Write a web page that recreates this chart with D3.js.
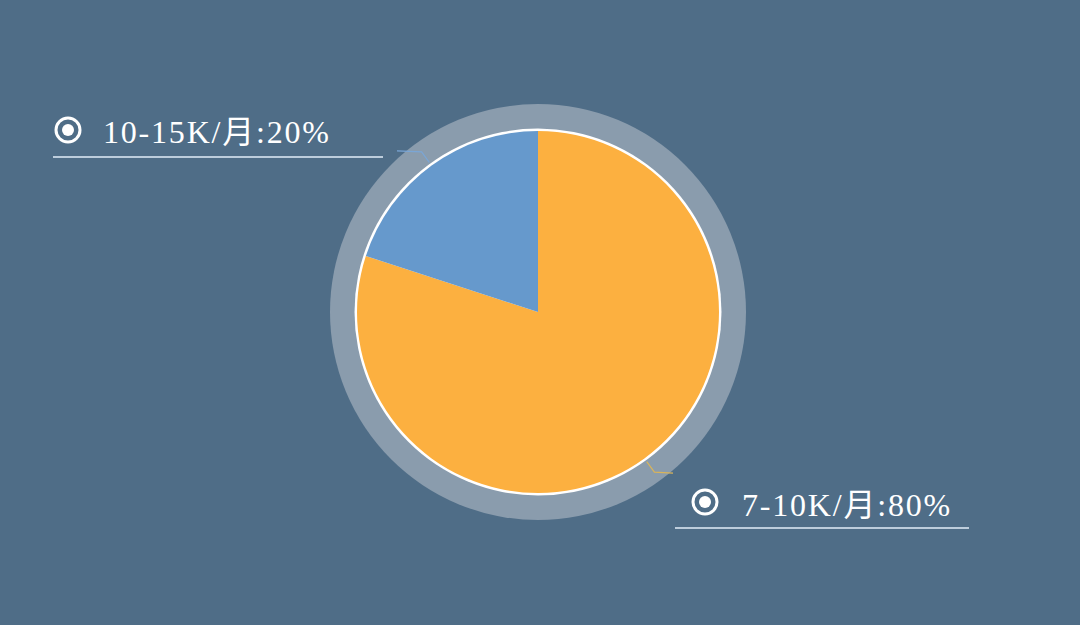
<!DOCTYPE html>
<html><head><meta charset="utf-8">
<script src="https://cdn.jsdelivr.net/npm/d3@7/dist/d3.min.js"></script>
<style>html,body{margin:0;padding:0;background:#4f6d87;}svg{display:block;}</style>
</head><body><svg id="c" width="1080" height="625"></svg>
<script>
const categories = ["7-10K/月", "10-15K/月"];
const values = [80, 20];
const colors = ["#fcb040", "#6699cc"];

const W = 1080, H = 625, cx = 538, cy = 312;
const svg = d3.select("#c");
svg.append("rect").attr("width", W).attr("height", H).attr("fill", "#4f6d87");
const g = svg.append("g").attr("transform", `translate(${cx},${cy})`);

g.append("circle").attr("r", 208).attr("fill", "#8a9cad");
g.append("circle").attr("r", 183.5).attr("fill", "#ffffff");

const pie = d3.pie().sort(null).value(d => d);
const arcs = pie(values);
const arc = d3.arc().innerRadius(0).outerRadius(181);
g.selectAll("path.s").data(arcs).join("path").attr("class", "s")
  .attr("d", arc).attr("fill", (d, i) => colors[i]);

const total = d3.sum(values);
const labelCfg = [
  {lineEnd: 673, icon: [705, 502], textX: 742, base: 516, ul: [675, 969], uy: 528},
  {lineEnd: 397, icon: [68, 130], textX: 103, base: 143, ul: [53, 383], uy: 157}
];
arcs.forEach((a, i) => {
  const m = (a.startAngle + a.endAngle) / 2;
  const p = r => [cx + r * Math.sin(m), cy - r * Math.cos(m)];
  const p1 = p(185), p2 = p(198);
  const c = labelCfg[i];
  svg.append("polyline")
    .attr("points", [p1, p2, [c.lineEnd, p2[1] + (i === 0 ? 1 : -1)]].map(q => q.join(",")).join(" "))
    .attr("fill", "none").attr("stroke", i === 0 ? "#d9b45a" : "#7aa6d6").attr("stroke-width", 1.2);
  svg.append("circle").attr("cx", c.icon[0]).attr("cy", c.icon[1]).attr("r", 12)
    .attr("fill", "none").attr("stroke", "#ffffff").attr("stroke-width", 3);
  svg.append("circle").attr("cx", c.icon[0]).attr("cy", c.icon[1]).attr("r", 6).attr("fill", "#ffffff");
  svg.append("text").attr("x", c.textX).attr("y", c.base)
    .attr("fill", "#ffffff")
    .style("font-family", "'Liberation Serif','DejaVu Serif','Noto Sans CJK SC',serif")
    .style("font-size", "32px")
    .style("letter-spacing", "1.8px")
    .text(`${categories[i]}:${Math.round(values[i] / total * 100)}%`);
  svg.append("line").attr("x1", c.ul[0]).attr("x2", c.ul[1]).attr("y1", c.uy).attr("y2", c.uy)
    .attr("stroke", "#e2eef9").attr("stroke-width", 1.3);
});
</script></body></html>
